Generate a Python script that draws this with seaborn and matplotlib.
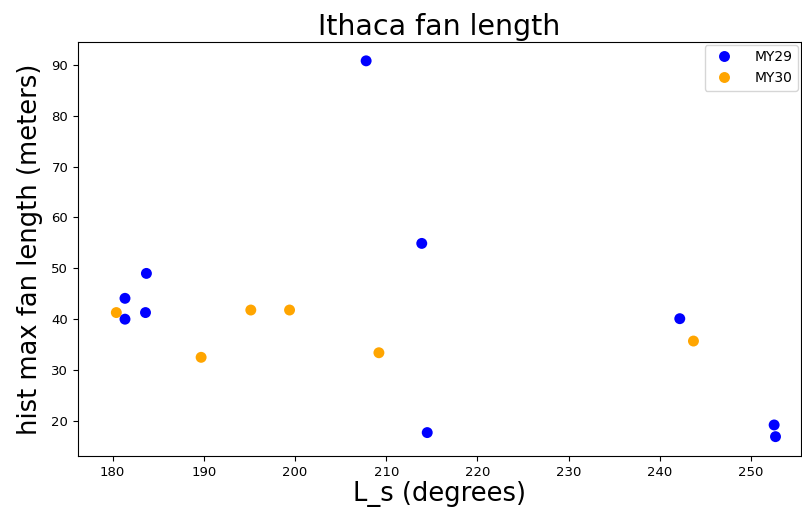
import matplotlib
matplotlib.use("Agg")
import matplotlib.pyplot as plt
import seaborn as sns
import pandas as pd

my29_ls = [207.8, 213.9, 214.5, 183.7, 181.35, 181.35, 183.6, 242.2, 252.55, 252.7]
my29_len = [90.8, 54.9, 17.7, 49.0, 44.1, 40.0, 41.3, 40.1, 19.2, 16.9]
my30_ls = [180.4, 189.7, 195.15, 199.4, 209.2, 243.7]
my30_len = [41.3, 32.5, 41.8, 41.8, 33.4, 35.7]
series = ["MY29", "MY30"]
colors = ["blue", "orange"]

df = pd.DataFrame({
    "ls": my29_ls + my30_ls,
    "len": my29_len + my30_len,
    "year": [series[0]] * len(my29_ls) + [series[1]] * len(my30_ls),
})

fig = plt.figure(figsize=(8.02, 5.15), dpi=100)
ax = fig.add_axes([0.0973, 0.1146, 0.9015, 0.8038])
sns.scatterplot(data=df, x="ls", y="len", hue="year", palette=dict(zip(series, colors)),
                s=62, linewidth=0, ax=ax)
ax.set_xlim(176.2, 255.5)
ax.set_ylim(13.1, 94.5)
ax.set_xticks(range(180, 251, 10))
ax.set_yticks(range(20, 91, 10))
ax.tick_params(labelsize=9.5)
ax.set_title("Ithaca fan length", fontsize=20.5, pad=5)
ax.set_xlabel("L_s (degrees)", fontsize=18.5, labelpad=2)
ax.set_ylabel("hist max fan length (meters)", fontsize=18.5, labelpad=6)
leg = ax.legend(loc="upper right", fontsize=10, title=None, borderaxespad=0.2,
                handletextpad=1.2)
fig.savefig("out.png", dpi=100)
